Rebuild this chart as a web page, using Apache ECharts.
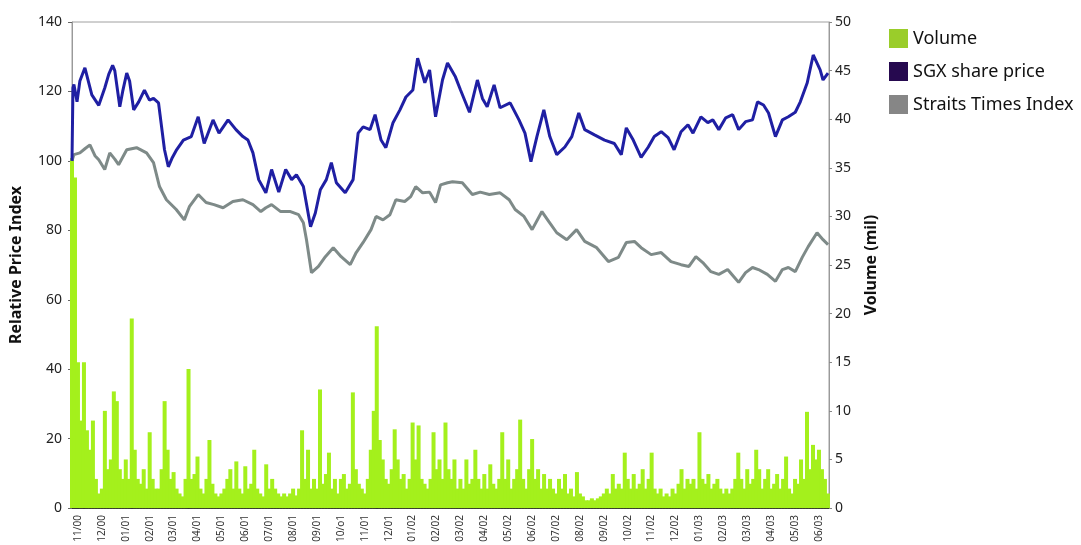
<!DOCTYPE html>
<html>
<head>
<meta charset="utf-8">
<script src="https://cdn.jsdelivr.net/npm/echarts@6/dist/echarts.min.js"></script>
<style>html,body{margin:0;padding:0;background:#fff}#c{width:1081px;height:545px}</style>
</head>
<body>
<div id="c"></div>
<script>
// Month tick labels (one per month, position 0 = 11/00)
var monthLabels = ['11/00','12/00','01/01','02/01','03/01','04/01','05/01','06/01','07/01','08/01','09/01','10/o1','11/01','12/01','01/02','02/02','03/02','04/02','05/02','06/02','07/02','08/02','09/02','10/02','11/02','12/02','01/03','02/03','03/03','04/03','05/03','06/03'];

// SGX share price: time (months from 11/00) and relative index
var sgxTime = [-0.25,-0.21,-0.17,-0.04,0.08,0.29,0.58,0.87,1.12,1.29,1.45,1.54,1.75,1.87,2.04,2.16,2.33,2.54,2.78,2.99,3.16,3.37,3.62,3.78,3.95,4.11,4.41,4.74,5.03,5.28,5.65,5.90,6.28,6.61,6.90,7.11,7.32,7.56,7.86,8.10,8.40,8.69,8.94,9.14,9.43,9.73,9.93,10.14,10.39,10.60,10.81,11.18,11.51,11.72,11.93,12.22,12.43,12.68,12.88,13.18,13.47,13.72,14.01,14.21,14.51,14.71,14.96,15.25,15.46,15.79,16.00,16.38,16.71,16.92,17.12,17.41,17.66,18.08,18.45,18.70,18.95,19.20,19.49,19.74,20.03,20.37,20.66,20.95,21.20,21.61,22.03,22.44,22.73,22.94,23.23,23.56,23.86,24.11,24.40,24.69,24.94,25.23,25.52,25.73,26.06,26.35,26.56,26.81,27.10,27.39,27.64,27.93,28.22,28.43,28.68,28.89,29.18,29.47,29.72,30.01,30.22,30.51,30.76,31.05,31.17,31.38];
var sgxValue = [100,121,122,117,123,126.8,119,116,121,125,127.5,126,115.6,120,125.3,123,114.7,117,120.4,117.5,118,116.7,103.2,98.3,101,103,106,107,112.7,105,111.8,108,111.8,109,107,106,102.3,94.6,90.8,97.5,91,97.5,94.6,96,92.6,81,85,91.7,94.6,99.5,93.7,90.8,94.6,108,109.8,109,113.3,106,103.8,111,114.7,118.4,120.4,129.6,122.5,126.2,112.7,123.3,128.2,124.2,120.5,114,123.3,118,115.6,121.9,115.3,116.7,111.8,108,99.8,107,114.7,107,101.8,104,107,113.8,109,107.5,106,105,101.8,109.5,106,101,104,107,108.4,106.7,103.2,108.4,110.4,108,112.7,111,111.8,109,112.4,113.3,109,111.3,111.8,117,116.1,113.8,107,111.8,112.7,114,117,122.5,130.5,126.2,123.3,125.3];

// Straits Times Index: time (months from 11/00) and relative index
var stiTime = [-0.25,-0.17,0.08,0.29,0.50,0.71,0.87,1.12,1.33,1.54,1.70,2.04,2.45,2.87,3.16,3.41,3.70,4.11,4.45,4.66,5.03,5.36,5.69,6.07,6.48,6.90,7.32,7.65,7.86,8.10,8.48,8.89,9.23,9.43,9.56,9.77,10.06,10.35,10.68,11.01,11.39,11.64,11.93,12.26,12.47,12.76,13.05,13.30,13.67,13.92,14.13,14.42,14.71,14.96,15.17,15.46,15.67,16.08,16.50,16.83,17.21,17.66,18.04,18.29,18.66,19.00,19.41,19.70,20.03,20.45,20.86,21.20,21.70,22.19,22.61,22.94,23.28,23.56,23.98,24.40,24.81,25.23,25.56,25.85,26.14,26.48,26.81,27.18,27.43,27.64,27.93,28.22,28.47,28.84,29.18,29.47,29.72,30.01,30.30,30.55,30.92,31.17,31.38];
var stiValue = [100,101.8,102.3,103.5,104.6,101.5,100.3,97.5,102.3,100.5,98.9,103.2,103.8,102.3,99.5,92.6,88.8,86,83,86.8,90.3,88,87.4,86.5,88.3,88.8,87.4,85.4,86.5,87.4,85.4,85.4,84.5,82.2,77.3,67.8,69.6,72.4,75,72.4,70.1,73.6,76.5,80.2,84,83,84.5,88.8,88.3,89.7,92.6,90.8,91,88,93.1,93.7,94,93.7,90.3,91,90.3,90.8,88.8,86,84,80.2,85.4,82.5,79.3,77.3,80.2,76.8,75,71,72.2,76.5,76.8,75,73,73.6,71,70.1,69.6,72.4,70.7,68.1,67.3,68.7,66.7,65,67.8,69.3,68.7,67.3,65.3,68.7,69.3,68.1,72.2,75.3,79.3,77.3,75.9];

// Volume (mil), one value per 1/8 month starting at -0.25
var volumeStart = -0.25, volumeStep = 0.125;
var volumeValue = [
36,34,15,9,15,8,6,9,3,1.5,2,10,4,5,12,11,4,3,5,3,19.5,6,3,2.5,4,2,7.8,3,2,2,4,11,6,3,3.7,2,1.5,1.2,3,14.3,
3,3.5,5.3,2,1.5,3,7,2.5,1.5,1.2,1.5,2,3,4,2,4.8,2,1.5,4.3,2,2.5,6,2,1.5,1.2,4.5,2,3,2,1.5,1.2,1.5,1.2,1.5,2,1.3,2,8,3,6,
2,3,2,12.2,2.5,3.5,5.7,2,3,1.5,3,3.5,2,2.5,11.9,4,2.5,2,1.5,3,6,10,18.7,7,5,3,2.5,4,8.1,5,3,3.5,2,3,8.8,5,8.5,3,2.5,2,
3,7.8,4,5,3,8.8,4,3,5,2,3,2,5,2.5,3,6,3,2,3.5,2,4.5,2.5,2,3,7.8,3,5,2,3,4,9.1,3,2,4,7.1,3,4,2,3.5,2,3,2,1.5,3,
2,3.5,1.5,2,1.2,3.7,1.5,1.2,0.8,0.8,1,0.8,1,1.2,1.5,2,1.5,3.5,2,2.5,2,5.7,3,2,3.5,2,2.5,4,2,3,5.7,2,1.5,2,1.2,1.5,1.2,2,1.5,2.5,
4,2,3,2.5,3,2,7.8,3,2.5,3.5,2,2.5,3,2,1.5,2,1.5,2,3,5.7,3,2,4,2.5,3,6,4,2,3,4,2,2.5,3.5,2,3,5.3,2,1.5,3,2.5,
5,3,9.9,4,6.5,5,6,4,3,1.5];

var sgxData = sgxTime.map(function (t, i) { return [t, sgxValue[i]]; });
var stiData = stiTime.map(function (t, i) { return [t, stiValue[i]]; });
var volData = volumeValue.map(function (v, i) { return [volumeStart + volumeStep * i, v]; });
var tickPositions = monthLabels.map(function (_, i) { return i; });

var chart = echarts.init(document.getElementById('c'), null, { renderer: 'canvas' });
var fontFam = '"Noto Sans", "DejaVu Sans", sans-serif';
chart.setOption({
  backgroundColor: '#ffffff',
  animation: false,
  textStyle: { fontFamily: fontFam },
  grid: { left: 67, right: 252, top: 22, bottom: 36, show: true, borderColor: '#a0a0a0', borderWidth: 1, backgroundColor: 'transparent' },
  legend: {
    orient: 'vertical', left: 884, top: 24, itemWidth: 19, itemHeight: 19, itemGap: 14, icon: 'rect',
    textStyle: { fontSize: 18, color: '#111', fontFamily: fontFam },
    data: [
      { name: 'Volume', itemStyle: { color: '#9acd2a' } },
      { name: 'SGX share price', itemStyle: { color: '#26094f' } },
      { name: 'Straits Times Index', itemStyle: { color: '#868686' } }
    ]
  },
  xAxis: {
    type: 'value', min: -0.25, max: 31.42,
    axisLine: { show: true, onZero: false, lineStyle: { color: '#000', width: 1.5 } },
    axisTick: { show: false },
    splitLine: { show: false },
    axisLabel: {
      customValues: tickPositions, rotate: 90, fontSize: 10, color: '#333', margin: 7,
      formatter: function (v) { return monthLabels[Math.round(v)] || ''; }
    }
  },
  yAxis: [
    {
      type: 'value', min: 0, max: 140, interval: 20,
      name: 'Relative Price Index', nameLocation: 'middle', nameRotate: 90, nameGap: 48,
      nameTextStyle: { fontSize: 16, fontWeight: 'bold', color: '#111' },
      axisLine: { show: true, onZero: false, lineStyle: { color: '#9a9a9a' } },
      axisTick: { show: true, length: 4, lineStyle: { color: '#666' } },
      splitLine: { show: false },
      axisLabel: { fontSize: 14, color: '#222', margin: 10 }
    },
    {
      type: 'value', min: 0, max: 50, interval: 5, position: 'right',
      name: 'Volume (mil)', nameLocation: 'middle', nameRotate: 90, nameGap: 34,
      nameTextStyle: { fontSize: 16, fontWeight: 'bold', color: '#111' },
      axisLine: { show: true, onZero: false, lineStyle: { color: '#9a9a9a' } },
      axisTick: { show: true, length: 3, lineStyle: { color: '#888' } },
      splitLine: { show: false },
      axisLabel: { fontSize: 14, color: '#222', margin: 6 }
    }
  ],
  series: [
    {
      name: 'Volume', type: 'bar', yAxisIndex: 1, data: volData, barWidth: 4, barGap: '-100%',
      itemStyle: { color: '#a4f01c' }, z: 1
    },
    {
      name: 'SGX share price', type: 'line', yAxisIndex: 0, data: sgxData, showSymbol: false, symbol: 'none',
      lineStyle: { color: '#1f1fa3', width: 3 }, itemStyle: { color: '#1f1fa3' }, z: 3
    },
    {
      name: 'Straits Times Index', type: 'line', yAxisIndex: 0, data: stiData, showSymbol: false, symbol: 'none',
      lineStyle: { color: '#7e8a88', width: 3 }, itemStyle: { color: '#7e8a88' }, z: 2
    }
  ]
});
</script>
</body>
</html>
